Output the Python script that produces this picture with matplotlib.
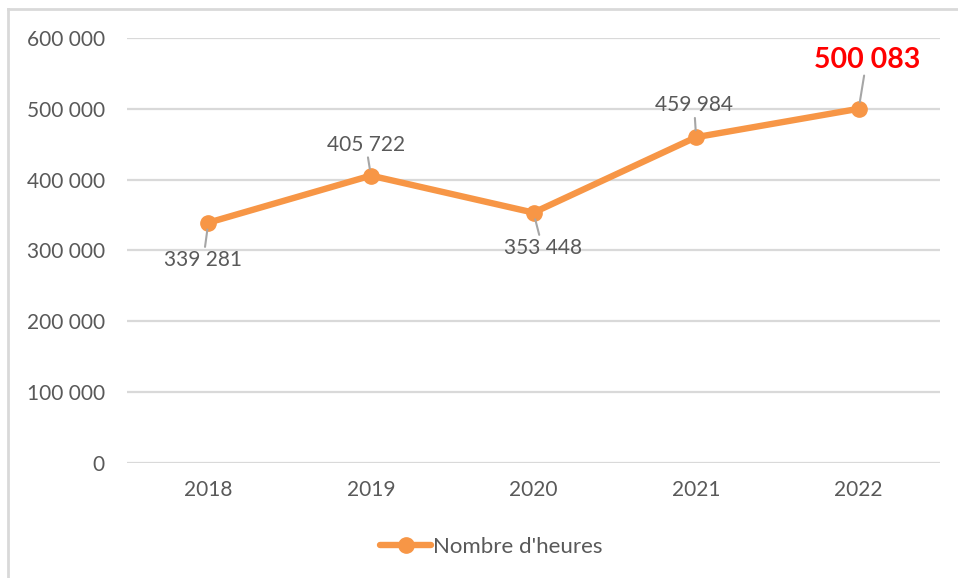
import matplotlib.pyplot as plt
from matplotlib.lines import Line2D

years = ["2018", "2019", "2020", "2021", "2022"]
heures = [339281, 405722, 353448, 459984, 500083]
yticks = [0, 100000, 200000, 300000, 400000, 500000, 600000]
# label offsets (pixels) from each point
label_off = [(-5, -37), (-5, 31), (9, -35), (-2, 32), (8, 49)]

orange = "#F79646"
grey = "#595959"

plt.rcParams['font.family'] = ['Lato', 'DejaVu Sans']

fig = plt.figure(figsize=(9.58, 5.78), dpi=100)
ax = fig.add_axes([127/958, 1 - 463/578, (940-127)/958, (463-38)/578])

x = list(range(len(years)))
ax.plot(x, heures, color=orange, lw=4.6, marker='o', ms=11,
        solid_capstyle='round', label="Nombre d'heures", zorder=3)

ax.set_xlim(-0.5, len(years) - 0.5)
ax.set_ylim(0, 600000)
ax.set_yticks(yticks)
ax.set_yticklabels([f"{v:,}".replace(",", " ") for v in yticks])
ax.set_xticks(x)
ax.set_xticklabels(years)
ax.tick_params(length=0, labelsize=15, labelcolor=grey)
ax.tick_params(axis='y', pad=16)
ax.tick_params(axis='x', pad=12)
ax.grid(axis='y', color='#D9D9D9', lw=1.6)
ax.set_axisbelow(True)
for s in ax.spines.values():
    s.set_visible(False)

def fmt(v):
    return f"{v:,}".replace(",", " ")

for i, v in enumerate(heures):
    dx, dy = label_off[i]
    last = i == len(heures) - 1
    ax.annotate(fmt(v), xy=(i, v), xytext=(dx, dy), textcoords='offset pixels',
                ha='center', va='center',
                fontsize=20.5 if last else 15,
                fontweight='bold' if last else 'normal',
                color='#FF0000' if last else grey,
                arrowprops=dict(arrowstyle='-', color='#A6A6A6', lw=1.5,
                                shrinkA=0, shrinkB=5))

handle = Line2D([], [], color=orange, lw=4.6, marker='o', ms=11, solid_capstyle='round')
fig.legend([handle], ["Nombre d'heures"], loc='center', bbox_to_anchor=(0.513, 1 - 547/578),
           frameon=False, fontsize=16, labelcolor=grey, handlelength=2.3,
           handletextpad=0.1)

# chart border (left and top visible)
fig.add_artist(Line2D([8/958, 8/958], [0, 1 - 9/578], color='#D9D9D9', lw=2))
fig.add_artist(Line2D([8/958, 1], [1 - 9/578, 1 - 9/578], color='#D9D9D9', lw=2))

fig.savefig("out.png", dpi=100)
